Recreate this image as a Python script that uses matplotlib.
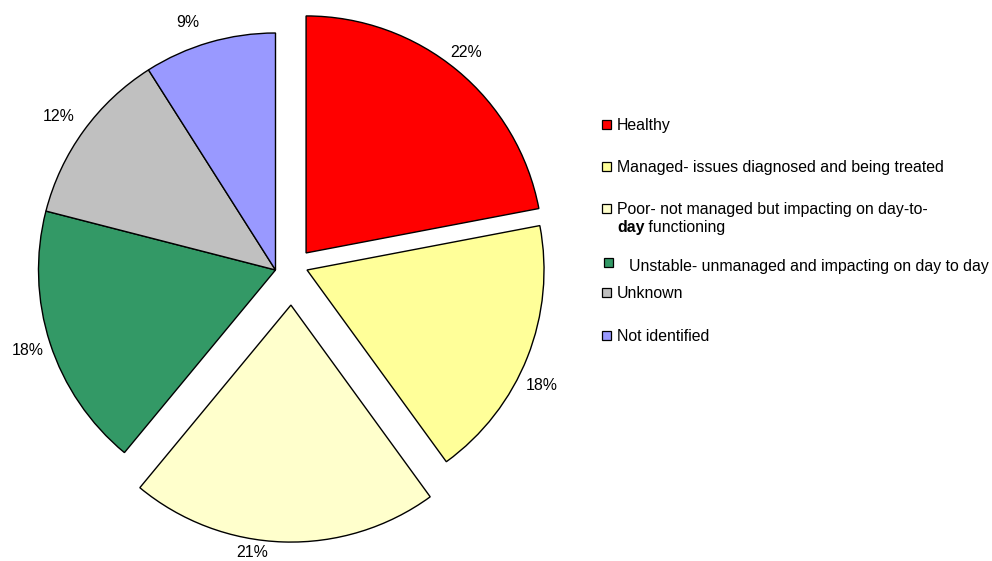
import matplotlib
matplotlib.use("Agg")
from matplotlib import pyplot as plt
from matplotlib.patches import Rectangle

plt.rcParams['font.family'] = ['Liberation Sans', 'DejaVu Sans']

categories = ['Healthy',
              'Managed- issues diagnosed and being treated',
              'Poor- not managed but impacting on day-to-day functioning',
              'Unstable- unmanaged and impacting on day to day',
              'Unknown',
              'Not identified']
shares = [22, 18, 21, 18, 12, 9]
colours = ['#FF0000', '#FFFF99', '#FFFFCC', '#339966', '#C0C0C0', '#9999FF']

# how far the pulled-out slices sit from the centre (x, y in radius units)
pull_out = {0: (0.129, 0.072), 1: (0.133, 0.0), 2: (0.065, -0.148)}
# small tweaks to where the percentage labels sit
label_nudge = {0: (-0.025, 0.0), 1: (-0.034, -0.084), 2: (-0.13, 0.055),
               4: (-0.025, 0.0), 5: (-0.063, -0.013)}

W, H = 992, 561
fig = plt.figure(figsize=(W / 100, H / 100), dpi=100)

# pie axes: centre at (275.5, 270) px, radius 237 px, limits +-1.2
cx, cy, r = 275.5, 270, 237
half = 1.2 * r
ax = fig.add_axes([(cx - half) / W, (H - cy - half) / H, 2 * half / W, 2 * half / H])

fs = 11.4
wedges, texts, pcts = ax.pie(shares, colors=colours, startangle=90, counterclock=False,
                             autopct='%1.0f%%', pctdistance=1.1,
                             wedgeprops=dict(edgecolor='black', linewidth=1.0),
                             textprops=dict(fontsize=fs, color='black'))
for i in range(len(shares)):
    dx, dy = pull_out.get(i, (0, 0))
    wedges[i].set_center((dx, dy))
    nx, ny = label_nudge.get(i, (0, 0))
    px, py = pcts[i].get_position()
    pcts[i].set_position((px + dx + nx, py + dy + ny))
ax.set_xlim(-1.2, 1.2)
ax.set_ylim(-1.2, 1.2)
ax.axis('off')

# legend drawn in pixel coordinates
lax = fig.add_axes([0, 0, 1, 1])
lax.set_xlim(0, W)
lax.set_ylim(H, 0)
lax.axis('off')

rows = [(125, 602, 617), (167, 602, 617), (209, 602, 617),
        (266, 604, 629), (293, 602, 617), (336, 602, 617)]
for i, (y, mx, tx) in enumerate(rows):
    my = y - 5 if i != 3 else 258
    lax.add_patch(Rectangle((mx, my), 9, 9, facecolor=colours[i],
                            edgecolor='black', linewidth=0.9))
    if i == 2:
        lax.text(tx, y, 'Poor- not managed but impacting on day-to-',
                 fontsize=fs, va='center', ha='left')
        t_day = lax.text(tx, 227, 'day', fontsize=fs, fontweight='bold',
                         va='center', ha='left')
        lax.annotate(' functioning', xy=(1, 0.5), xycoords=t_day,
                     fontsize=fs, va='center', ha='left')
    else:
        lax.text(tx, y, categories[i], fontsize=fs, va='center', ha='left')

fig.savefig('out.png', dpi=100)
